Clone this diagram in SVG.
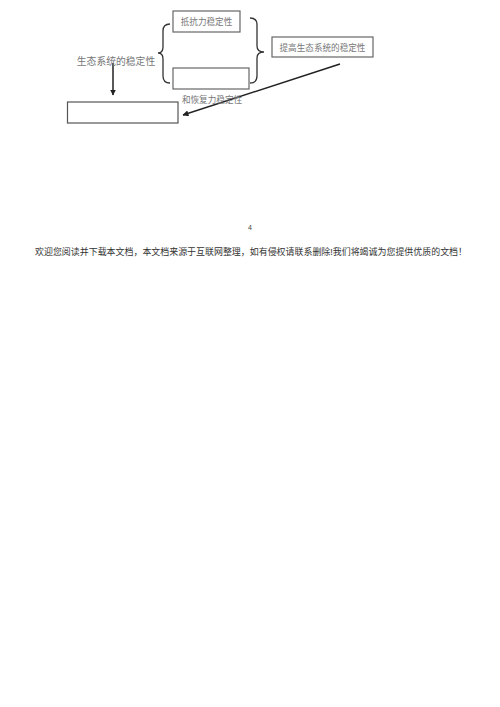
<svg xmlns="http://www.w3.org/2000/svg" width="500" height="707" viewBox="0 0 500 707">
<defs>
<style>
.box{fill:#fff;stroke:#666;stroke-width:1.2}
.t{font-family:"Noto Sans CJK SC","Liberation Serif",serif;fill:#777}
.brace{fill:none;stroke:#333;stroke-width:1.3}
.ln{stroke:#222;stroke-width:1.5;fill:none}
</style>
<marker id="ah" viewBox="0 0 10 10" refX="9" refY="5" markerWidth="6" markerHeight="6" orient="auto-start-reverse" markerUnits="userSpaceOnUse">
<path d="M0,0 L10,5 L0,10 z" fill="#222"/>
</marker>
</defs>
<rect width="500" height="707" fill="#fff"/>
<g id="connectors">
<path class="ln" d="M113,63 L113,95" marker-end="url(#ah)"/>
<path class="ln" d="M340,64 L183,115" marker-end="url(#ah)"/>
<path class="brace" d="M170,24 Q163,24 163,31 L163,47 Q163,53 158,53 Q163,53 163,59 L163,76 Q163,83 170,83"/>
<path class="brace" d="M250,18 Q257,18 257,25 L257,46 Q257,52 264,52 Q257,52 257,58 L257,76 Q257,83 250,83"/>
</g>
<g id="n1"><rect class="box" x="173" y="11" width="67" height="21"/><text class="t" x="206.5" y="25" font-size="8.6" text-anchor="middle">抵抗力稳定性</text></g>
<g id="n2"><rect class="box" x="173" y="68" width="76" height="21"/></g>
<g id="n3"><text class="t" x="116" y="65" font-size="9.8" text-anchor="middle">生态系统的稳定性</text></g>
<g id="n4"><rect class="box" x="272" y="37" width="101" height="20"/><text class="t" x="322.5" y="50.5" font-size="8.6" text-anchor="middle">提高生态系统的稳定性</text></g>
<g id="n5"><rect class="box" x="67.5" y="102" width="110.5" height="21" style="stroke:#555"/></g>
<g id="n6"><text class="t" x="212" y="103" font-size="8.6" text-anchor="middle">和恢复力稳定性</text></g>
<text x="250" y="230" font-size="7" text-anchor="middle" font-family="Liberation Sans,sans-serif" fill="#444">4</text>
<text x="35" y="254.5" font-size="9" textLength="432" lengthAdjust="spacingAndGlyphs" font-family="Liberation Sans,'Noto Sans CJK SC',sans-serif" fill="#333">欢迎您阅读并下载本文档，本文档来源于互联网整理，如有侵权请联系删除!我们将竭诚为您提供优质的文档！</text>
</svg>
